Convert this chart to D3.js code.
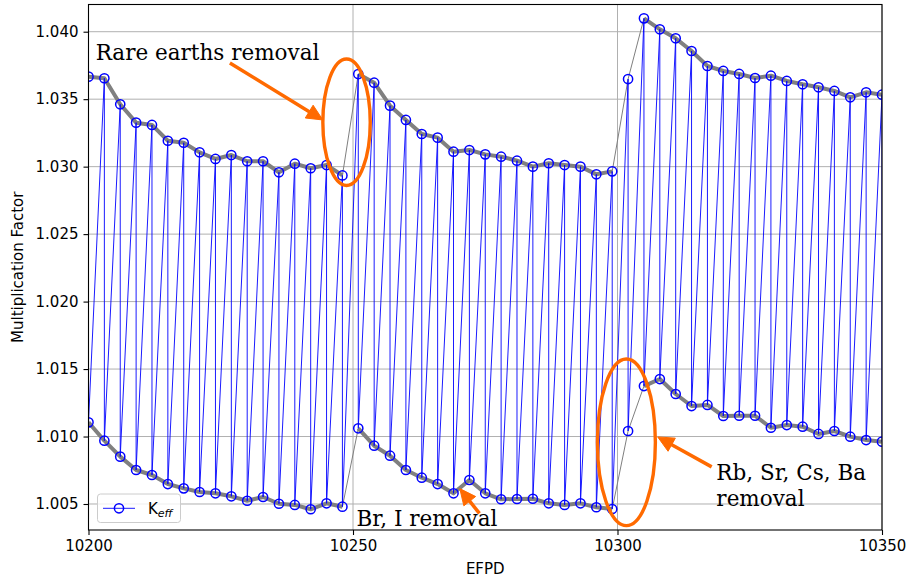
<!DOCTYPE html>
<html><head><meta charset="utf-8">
<script src="https://cdn.jsdelivr.net/npm/d3@7/dist/d3.min.js"></script>
<style>body{margin:0;background:#fff} svg{display:block}</style>
</head><body><svg id="chart" width="909" height="582"></svg>
<script>
// ---- data ----
const efpd = [10200,10203,10206,10209,10212,10215,10218,10221,10224,10227,10230,10233,10236,10239,10242,10245,10248,
  10251,10254,10257,10260,10263,10266,10269,10272,10275,10278,10281,10284,10287,10290,10293,10296,10299,
  10302,10305,10308,10311,10314,10317,10320,10323,10326,10329,10332,10335,10338,10341,10344,10347,10350];
const keffHigh = [1.03667,1.03655,1.03462,1.03326,1.03309,1.03192,1.03177,1.03106,1.03057,1.03086,1.03040,1.03040,1.02958,1.03022,1.02988,1.03012,1.02935,
  1.03686,1.03622,1.03452,1.03346,1.03242,1.03215,1.03111,1.03123,1.03091,1.03074,1.03044,1.03000,1.03025,1.03012,1.03000,1.02943,1.02965,
  1.03649,1.04099,1.04018,1.03951,1.03857,1.03746,1.03709,1.03687,1.03657,1.03674,1.03635,1.03610,1.03588,1.03561,1.03514,1.03551,1.03533];
const keffLow = [1.01105,1.00969,1.00851,1.00752,1.00715,1.00648,1.00616,1.00589,1.00579,1.00557,1.00524,1.00552,1.00502,1.00493,1.00461,1.00505,1.00480,
  1.01061,1.00932,1.00858,1.00752,1.00695,1.00648,1.00579,1.00678,1.00579,1.00535,1.00537,1.00539,1.00505,1.00493,1.00505,1.00476,1.00463,
  1.01041,1.01374,1.01426,1.01315,1.01226,1.01234,1.01152,1.01154,1.01154,1.01065,1.01085,1.01073,1.01019,1.01041,1.00999,1.00974,1.00962];
// indices where a removal step begins (segment i -> i+1 is a jump)
const removalSteps = [16, 33, 34];
const xTicks = [10200, 10250, 10300, 10350];
const yTicks = [1.005, 1.010, 1.015, 1.020, 1.025, 1.030, 1.035, 1.040];
const xLabel = "EFPD", yLabel = "Multiplication Factor";
// annotations (data coordinates)
const ellipses = [
  {cx: 10248.78, cy: 1.03329, rx: 4.48, ry: 0.004684},
  {cx: 10301.68, cy: 1.00957, rx: 5.48, ry: 0.006173}
];
const arrows = [
  {x1: 10226.73, y1: 1.03768, x2: 10244.30, y2: 1.03346},
  {x1: 10273.90, y1: 1.00430, x2: 10270.19, y2: 1.00614},
  {x1: 10317.80, y1: 1.00775, x2: 10307.60, y2: 1.00997}
];
const texts = [
  {x: 10201.36, y: 1.03790, lines: ["Rare earths removal"]},
  {x: 10250.67, y: 1.00337, lines: ["Br, I removal"]},
  {x: 10318.69, y: 1.00677, lines: ["Rb, Sr, Cs, Ba", "removal"]}
];

// ---- layout ----
const W = 909, H = 582;
const m = {left: 88.5, right: 882, top: 4.5, bottom: 530};
const svg = d3.select("#chart");
const x = d3.scaleLinear().domain([10200, 10350]).range([m.left, m.right]);
const y = d3.scaleLinear().domain([1.003073, 1.042016]).range([m.bottom, m.top]);
const orange = "#ff6a00";
const font = "DejaVu Sans, sans-serif";

// grid
const g = svg.append("g");
g.selectAll(".gx").data(xTicks).join("line")
  .attr("x1", d => x(d)).attr("x2", d => x(d)).attr("y1", m.top).attr("y2", m.bottom)
  .attr("stroke", "#b0b0b0").attr("stroke-width", 1);
g.selectAll(".gy").data(yTicks).join("line")
  .attr("x1", m.left).attr("x2", m.right).attr("y1", d => y(d)).attr("y2", d => y(d))
  .attr("stroke", "#b0b0b0").attr("stroke-width", 1);

const clip = svg.append("clipPath").attr("id", "clip").append("rect")
  .attr("x", m.left).attr("y", m.top).attr("width", m.right - m.left).attr("height", m.bottom - m.top);
const plot = svg.append("g").attr("clip-path", "url(#clip)");

// gray envelope lines
const line = d3.line().x(d => x(d[0])).y(d => y(d[1]));
[keffHigh, keffLow].forEach(series => {
  const pts = efpd.map((t, i) => [t, series[i]]);
  plot.append("path").attr("d", line(pts)).attr("fill", "none")
    .attr("stroke", "#7f7f7f").attr("stroke-width", 1);
  let seg = [];
  pts.forEach((p, i) => {
    seg.push(p);
    if (removalSteps.includes(i) || i === pts.length - 1) {
      if (seg.length > 1) plot.append("path").attr("d", line(seg)).attr("fill", "none")
        .attr("stroke", "#808080").attr("stroke-width", 4).attr("stroke-linejoin", "round");
      seg = [];
    }
  });
});

// blue Keff sequence
const seq = [];
efpd.forEach((t, i) => { seq.push([t, keffHigh[i]]); seq.push([t, keffLow[i]]); });
plot.append("path").attr("d", line(seq)).attr("fill", "none")
  .attr("stroke", "#0000ff").attr("stroke-width", 0.9);
plot.selectAll(".mk").data(seq).join("circle")
  .attr("cx", d => x(d[0])).attr("cy", d => y(d[1])).attr("r", 4.6)
  .attr("fill", "none").attr("stroke", "#0000ff").attr("stroke-width", 1.5);

// axes
const xAxis = svg.append("g").attr("transform", `translate(0,${m.bottom})`)
  .call(d3.axisBottom(x).tickValues(xTicks).tickFormat(d3.format("d")).tickSize(5).tickPadding(5));
const yAxis = svg.append("g").attr("transform", `translate(${m.left},0)`)
  .call(d3.axisLeft(y).tickValues(yTicks).tickFormat(d3.format(".3f")).tickSize(5).tickPadding(5));
[xAxis, yAxis].forEach(a => {
  a.select(".domain").remove();
  a.selectAll("line").attr("stroke", "#000").attr("stroke-width", 1.1);
  a.selectAll("text").attr("font-family", font).attr("font-size", 15).attr("fill", "#000");
});
svg.append("rect").attr("x", m.left).attr("y", m.top).attr("width", m.right - m.left)
  .attr("height", m.bottom - m.top).attr("fill", "none").attr("stroke", "#000").attr("stroke-width", 1.1);

svg.append("text").attr("x", (m.left + m.right) / 2).attr("y", 574).attr("text-anchor", "middle")
  .attr("font-family", font).attr("font-size", 15).text(xLabel);
svg.append("text").attr("transform", `translate(23,${(m.top + m.bottom) / 2}) rotate(-90)`)
  .attr("text-anchor", "middle").attr("font-family", font).attr("font-size", 15).text(yLabel);

// annotations
const ann = svg.append("g");
ellipses.forEach(e => {
  ann.append("ellipse").attr("cx", x(e.cx)).attr("cy", y(e.cy))
    .attr("rx", x(e.cx + e.rx) - x(e.cx)).attr("ry", y(e.cy) - y(e.cy + e.ry))
    .attr("fill", "none").attr("stroke", orange).attr("stroke-width", 3.4);
});
arrows.forEach(a => {
  const X1 = x(a.x1), Y1 = y(a.y1), X2 = x(a.x2), Y2 = y(a.y2);
  const dx = X2 - X1, dy = Y2 - Y1, L = Math.hypot(dx, dy), ux = dx / L, uy = dy / L;
  const hl = 16, hw = 7.5;
  const bx = X2 - ux * hl, by = Y2 - uy * hl;
  ann.append("line").attr("x1", X1).attr("y1", Y1).attr("x2", bx + ux * 2).attr("y2", by + uy * 2)
    .attr("stroke", orange).attr("stroke-width", 3.5);
  ann.append("polygon").attr("points",
    [[X2, Y2], [bx - uy * hw, by + ux * hw], [bx + uy * hw, by - ux * hw]].map(p => p.join(",")).join(" "))
    .attr("fill", orange).attr("stroke", orange).attr("stroke-width", 1).attr("stroke-linejoin", "miter");
});
texts.forEach(t => {
  const tx = ann.append("text").attr("x", x(t.x)).attr("y", y(t.y))
    .attr("font-family", "DejaVu Serif, serif").attr("font-size", 21.5).attr("fill", "#000");
  t.lines.forEach((s, i) => tx.append("tspan").attr("x", x(t.x)).attr("dy", i ? 26 : 0).text(s));
});

// legend
const lg = svg.append("g");
lg.append("rect").attr("x", 97.5).attr("y", 494).attr("width", 83).attr("height", 28.5).attr("rx", 3)
  .attr("fill", "#fff").attr("fill-opacity", 0.8).attr("stroke", "#cccccc").attr("stroke-width", 1);
lg.append("line").attr("x1", 103).attr("x2", 135).attr("y1", 508.3).attr("y2", 508.3)
  .attr("stroke", "#0000ff").attr("stroke-width", 0.9);
lg.append("circle").attr("cx", 119).attr("cy", 508.3).attr("r", 4.6)
  .attr("fill", "none").attr("stroke", "#0000ff").attr("stroke-width", 1.5);
const lt = lg.append("text").attr("x", 148).attr("y", 514).attr("font-family", font).attr("font-size", 15);
lt.append("tspan").text("K");
lt.append("tspan").attr("dy", 3).attr("font-size", 11).attr("font-style", "italic").text("eff");
</script></body></html>
